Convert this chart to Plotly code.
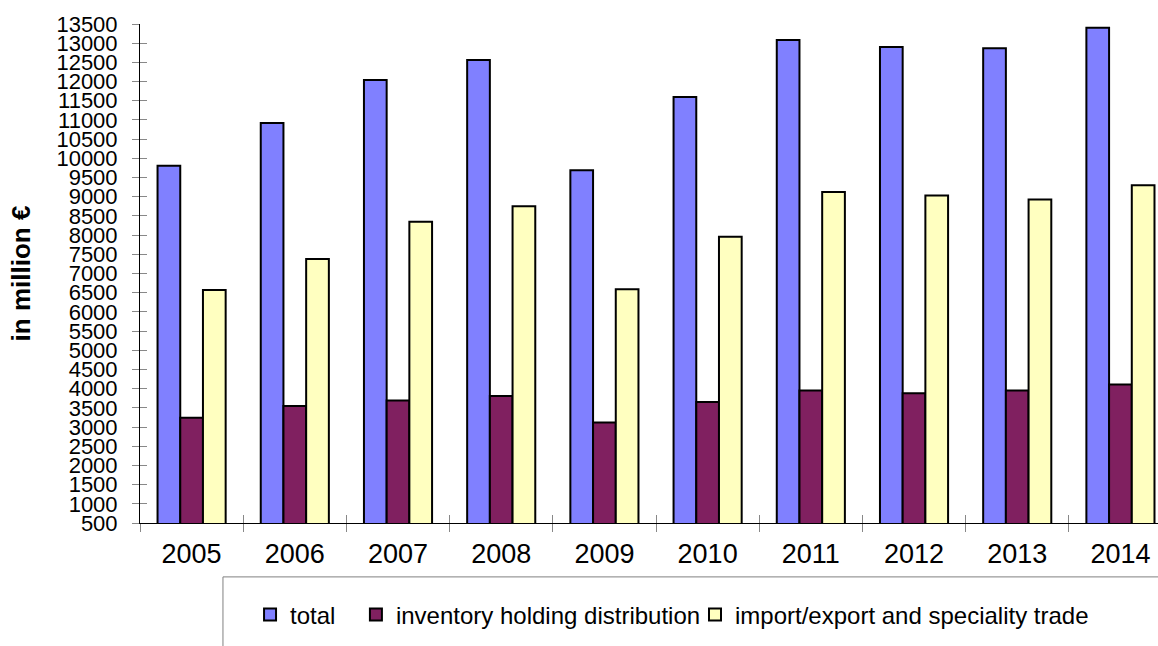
import plotly.graph_objects as go

years = ["2005", "2006", "2007", "2008", "2009", "2010", "2011", "2012", "2013", "2014"]
total = [9810, 10920, 12040, 12560, 9690, 11600, 13080, 12900, 12870, 13400]
inventory = [3240, 3550, 3690, 3810, 3120, 3650, 3950, 3880, 3950, 4110]
import_export = [6570, 7380, 8350, 8750, 6590, 7960, 9120, 9030, 8930, 9300]

series_names = ["total", "inventory holding distribution", "import/export and speciality trade"]
legend_ids = ["legend", "legend2", "legend3"]
colors = ["#8080FF", "#802060", "#FFFFC0"]

FONT = "Liberation Sans, Arial, sans-serif"

fig = go.Figure()
for name, lg, vals, col in zip(series_names, legend_ids, [total, inventory, import_export], colors):
    fig.add_trace(go.Bar(
        x=years, y=vals, name=name, legend=lg,
        marker=dict(color=col, line=dict(color="black", width=2)),
    ))

# dummy trace for overlay axes (inner half of crossing ticks)
fig.add_trace(go.Scatter(x=years, y=[None] * len(years), xaxis="x2", yaxis="y2",
                         showlegend=False, hoverinfo="skip", mode="markers"))

xr = [-0.5, 9.364]
yr = [500, 13500]

def legend_at(xpos):
    return dict(
        orientation="h", x=xpos, xanchor="left", y=-0.184, yanchor="middle",
        font=dict(size=24, family=FONT), bgcolor="rgba(0,0,0,0)", itemwidth=30,
    )

fig.update_layout(
    width=1158, height=646,
    margin=dict(l=140, r=0, t=24, b=123),
    paper_bgcolor="white", plot_bgcolor="white",
    barmode="group", bargap=0.34, bargroupgap=0,
    font=dict(family=FONT, color="black"),
    xaxis=dict(
        type="category", range=xr, tickson="boundaries", automargin=False,
        ticks="outside", ticklen=8, tickcolor="#888888", tickwidth=1,
        showline=True, linecolor="black", linewidth=1,
        showgrid=False, zeroline=False,
        tickfont=dict(size=27, family=FONT), ticklabelstandoff=7,
    ),
    yaxis=dict(
        range=yr, dtick=500, tick0=500, tickformat="d", automargin=False,
        ticks="outside", ticklen=7, tickcolor="#888888", tickwidth=1,
        showline=True, linecolor="black", linewidth=1,
        showgrid=False, zeroline=False,
        tickfont=dict(size=22, family=FONT), ticklabelstandoff=10,
        title=dict(text="<b>in million €</b>", font=dict(size=26, family=FONT), standoff=18),
    ),
    xaxis2=dict(
        type="category", range=xr, overlaying="x", tickson="boundaries", automargin=False,
        ticks="inside", ticklen=8, tickcolor="#888888", tickwidth=1,
        showticklabels=False, showline=False, showgrid=False, zeroline=False,
        categoryarray=years, categoryorder="array",
    ),
    yaxis2=dict(
        range=yr, dtick=500, tick0=500, overlaying="y", side="left", automargin=False,
        ticks="inside", ticklen=7, tickcolor="#888888", tickwidth=1,
        showticklabels=False, showline=False, showgrid=False, zeroline=False,
    ),
    legend=legend_at(0.1081),
    legend2=legend_at(0.2121),
    legend3=legend_at(0.5452),
    shapes=[
        dict(type="line", xref="paper", yref="paper", x0=0.0815, x1=1.05, y0=-0.108, y1=-0.108,
             line=dict(color="#808080", width=1)),
        dict(type="line", xref="paper", yref="paper", x0=0.0815, x1=0.0815, y0=-0.108, y1=-0.5,
             line=dict(color="#808080", width=1)),
    ],
)

fig.write_html("out.html", config={"displayModeBar": False},
               post_script="document.body.style.margin='0';document.body.style.overflow='hidden';")
